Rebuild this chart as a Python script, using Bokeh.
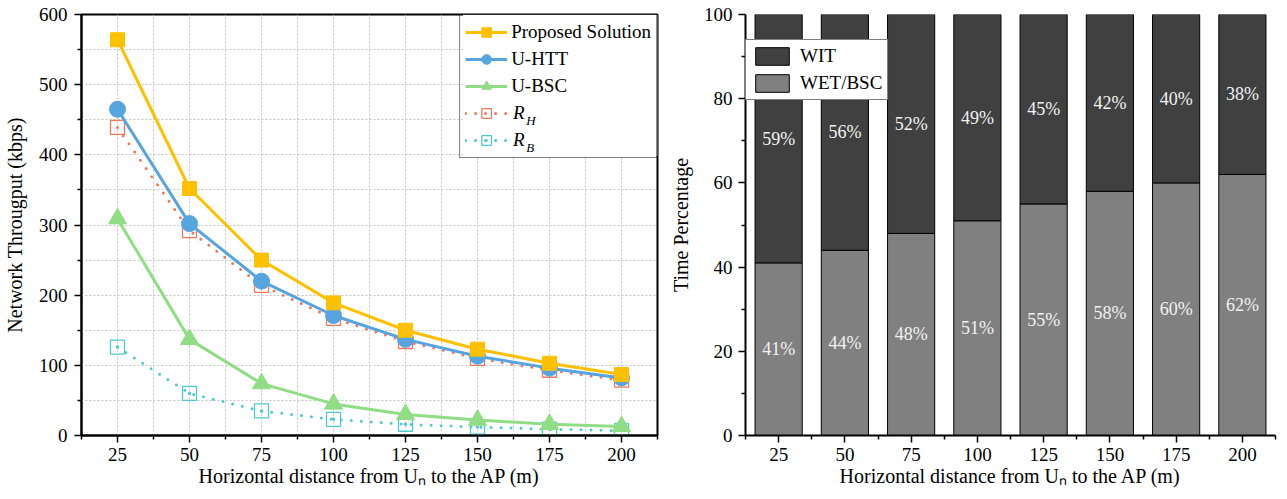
from bokeh.plotting import figure
from bokeh.layouts import row
from bokeh.models import (ColumnDataSource, FixedTicker, Legend, LegendItem,
                          Label, Range1d, BoxAnnotation)
from bokeh.embed import file_html
from bokeh.resources import INLINE
from bokeh.core.properties import value

# ---------------- data ----------------
distances = [25, 50, 75, 100, 125, 150, 175, 200]
proposed = [564, 352, 250, 189, 150, 123, 103, 87]
u_htt = [465, 302, 220, 171, 137, 113, 96, 82]
u_bsc = [309, 137, 74, 45, 30, 22, 16, 13]
r_h = [439, 292, 214, 167, 134, 110, 93, 79]
r_b = [126, 60, 35, 23, 16, 12, 9, 7]

wet_bsc = [41, 44, 48, 51, 55, 58, 60, 62]
wit = [59, 56, 52, 49, 45, 42, 40, 38]

x_title = "Horizontal distance from U\u2099 to the AP (m)"

FONT = "Liberation Serif"
TICK_FS = "19px"
TITLE_FS = "20px"

C_PROP = "#FFC000"
C_HTT = "#56A5E0"
C_BSC = "#90DD86"
C_RH = "#F0785A"
C_RB = "#50C8D0"


def style_axes(p):
    for ax in (p.xaxis[0], p.yaxis[0]):
        ax.axis_line_color = "black"
        ax.axis_line_width = 2
        ax.major_tick_line_color = "black"
        ax.major_tick_line_width = 1.5
        ax.minor_tick_line_color = "black"
        ax.minor_tick_line_width = 1.5
        ax.major_tick_in = 0
        ax.major_tick_out = 7
        ax.minor_tick_in = 0
        ax.minor_tick_out = 4
        ax.major_label_text_font = FONT
        ax.major_label_text_font_size = TICK_FS
        ax.major_label_text_color = "black"
        ax.axis_label_text_font = FONT
        ax.axis_label_text_font_size = TITLE_FS
        ax.axis_label_text_font_style = "normal"
        ax.axis_label_text_color = "black"
    p.xaxis.major_label_standoff = 5
    p.xaxis.axis_label_standoff = 1


minor_x = [d - 12.5 for d in distances] + [distances[-1] + 12.5]

# ---------------- left chart ----------------
p1 = figure(width=665, height=499, x_range=Range1d(12.5, 212.5),
            y_range=Range1d(0, 600), output_backend="svg",
            toolbar_location=None, min_border_left=79, min_border_right=8,
            min_border_top=14, min_border_bottom=64)
p1.background_fill_color = "white"
p1.border_fill_color = "white"
p1.outline_line_color = "black"
p1.outline_line_width = 2
p1.outline_line_alpha = 1

xt1 = FixedTicker(ticks=distances, minor_ticks=minor_x)
yt1 = FixedTicker(ticks=list(range(0, 601, 100)),
                  minor_ticks=list(range(50, 600, 100)))
p1.xaxis.ticker = xt1
p1.yaxis.ticker = yt1
p1.xgrid.ticker = xt1
p1.ygrid.ticker = yt1
for g in (p1.xgrid[0], p1.ygrid[0]):
    g.grid_line_color = "#c4c4c4"
    g.grid_line_dash = "2 2"
    g.grid_line_width = 1
    g.minor_grid_line_color = "#c4c4c4"
    g.minor_grid_line_dash = "2 2"
    g.minor_grid_line_width = 1
style_axes(p1)
p1.xaxis.axis_label = x_title
p1.yaxis.axis_label = "Network Througput (kbps)"
p1.yaxis.major_label_standoff = 7
p1.yaxis.axis_label_standoff = 10

src1 = ColumnDataSource(dict(x=distances, prop=proposed, htt=u_htt,
                             bsc=u_bsc, rh=r_h, rb=r_b))

l_rb = p1.line("x", "rb", source=src1, color=C_RB, line_width=3,
               line_dash="0 10", line_cap="round")
m_rb = p1.scatter("x", "rb", source=src1, marker="square_dot", size=14,
                  line_color=C_RB, fill_color="white", fill_alpha=0,
                  line_width=1.3)
l_rh = p1.line("x", "rh", source=src1, color=C_RH, line_width=3,
               line_dash="0 10", line_cap="round")
m_rh = p1.scatter("x", "rh", source=src1, marker="square", size=14,
                  line_color=C_RH, fill_color="white", fill_alpha=0,
                  line_width=1.3)
l_bsc = p1.line("x", "bsc", source=src1, color=C_BSC, line_width=3)
m_bsc = p1.scatter("x", "bsc", source=src1, marker="triangle", size=18,
                   color=C_BSC)
l_htt = p1.line("x", "htt", source=src1, color=C_HTT, line_width=3)
m_htt = p1.scatter("x", "htt", source=src1, marker="circle", size=16,
                   color=C_HTT)
l_prop = p1.line("x", "prop", source=src1, color=C_PROP, line_width=3)
m_prop = p1.scatter("x", "prop", source=src1, marker="square", size=14,
                    color=C_PROP)

# white backing behind the (transparent) legend so grid lines stay hidden
p1.add_layout(BoxAnnotation(left=145, right=212.5, bottom=398, top=600,
                            fill_color="white", fill_alpha=1,
                            line_color=None, level="guide"))

leg1 = Legend(items=[
    LegendItem(label="Proposed Solution", renderers=[l_prop, m_prop]),
    LegendItem(label="U-HTT", renderers=[l_htt, m_htt]),
    LegendItem(label="U-BSC", renderers=[l_bsc, m_bsc]),
    LegendItem(label=" ", renderers=[l_rh, m_rh]),
    LegendItem(label=" ", renderers=[l_rb, m_rb]),
], location="top_right", margin=0, padding=5, spacing=3,
    glyph_width=42, glyph_height=24, label_height=24, label_standoff=4,
    label_text_font=FONT, label_text_font_size="19px",
    label_text_color="black", border_line_color="black",
    border_line_width=1.5, background_fill_alpha=0)
p1.add_layout(leg1)

# italic R with subscripts for the last two legend entries
for sub, ry, sy in (("H", 460.3, 449.0), ("B", 421.9, 410.6)):
    p1.add_layout(Label(x=162.3, y=ry, text="R", text_font=FONT,
                        text_font_size="19px", text_font_style="italic",
                        text_baseline="middle", text_align="left",
                        text_color="black"))
    p1.add_layout(Label(x=166.9, y=sy, text=sub, text_font=FONT,
                        text_font_size="13px", text_font_style="italic",
                        text_baseline="middle", text_align="left",
                        text_color="black"))

# ---------------- right chart ----------------
p2 = figure(width=615, height=499, x_range=Range1d(12.5, 212.5),
            y_range=Range1d(0, 100), output_backend="svg",
            toolbar_location=None, min_border_left=80, min_border_right=5,
            min_border_top=14, min_border_bottom=64)
p2.background_fill_color = "white"
p2.border_fill_color = "white"
p2.outline_line_color = None
p2.xgrid.visible = False
p2.ygrid.visible = False
p2.xaxis.ticker = FixedTicker(ticks=distances, minor_ticks=minor_x)
p2.yaxis.ticker = FixedTicker(ticks=list(range(0, 101, 20)),
                              minor_ticks=list(range(10, 100, 20)))
style_axes(p2)
p2.xaxis.axis_label = x_title
p2.yaxis.axis_label = "Time Percentage"
p2.yaxis.major_label_standoff = 6
p2.yaxis.axis_label_standoff = 9

total = [a + b for a, b in zip(wet_bsc, wit)]
src2 = ColumnDataSource(dict(
    x=distances, wet=wet_bsc, wit=wit, total=total,
    wet_mid=[w / 2 for w in wet_bsc],
    wit_mid=[a + b / 2 for a, b in zip(wet_bsc, wit)],
    wet_txt=[f"{w}%" for w in wet_bsc],
    wit_txt=[f"{w}%" for w in wit]))

BAR_W = 17.8
r_wet = p2.vbar(x="x", width=BAR_W, bottom=0, top="wet", source=src2,
                fill_color="#808080", line_color="black", line_width=1)
r_wit = p2.vbar(x="x", width=BAR_W, bottom="wet", top="total", source=src2,
                fill_color="#404040", line_color="black", line_width=1)

for ycol, tcol in (("wet_mid", "wet_txt"), ("wit_mid", "wit_txt")):
    p2.text(x="x", y=ycol, text=tcol, source=src2, text_align="center",
            text_baseline="middle", text_color="#f2f2f2",
            text_font=value(FONT), text_font_size="18px")

leg2 = Legend(items=[
    LegendItem(label="WIT", renderers=[r_wit]),
    LegendItem(label="WET/BSC", renderers=[r_wet]),
], location=(0, 335), margin=0, padding=5, spacing=5,
    glyph_width=42, glyph_height=22, label_height=22, label_standoff=7,
    label_text_font=FONT, label_text_font_size="19px",
    label_text_color="black", border_line_color="black",
    border_line_width=1.2, background_fill_color="white",
    background_fill_alpha=1)
p2.add_layout(leg2)

layout = row(p1, p2)
open("out.html", "w").write(file_html(layout, INLINE))
